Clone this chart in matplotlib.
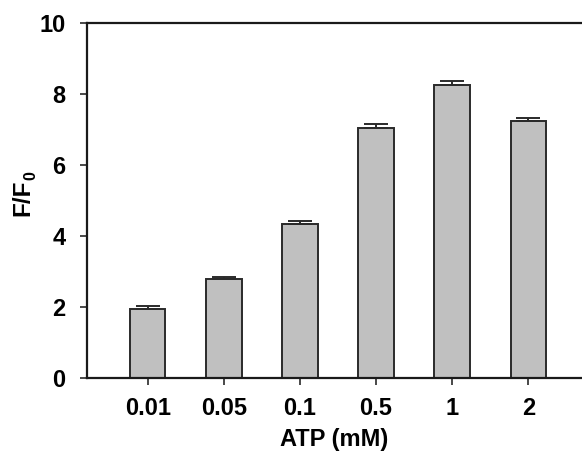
import matplotlib
matplotlib.use("Agg")
import matplotlib.pyplot as plt
from matplotlib import font_manager as fm
import numpy as np

categories = ["0.01", "0.05", "0.1", "0.5", "1", "2"]
values = [1.94, 2.78, 4.34, 7.05, 8.25, 7.23]
errors = [0.07, 0.07, 0.08, 0.11, 0.13, 0.11]
yticks = [0, 2, 4, 6, 8, 10]

# locate regular-width Liberation Sans Bold
bold_path = None
for f in fm.fontManager.ttflist:
    if f.name == 'Liberation Sans' and f.weight in (700, 'bold') and f.style == 'normal' \
            and 'Narrow' not in f.fname:
        bold_path = f.fname
        break
if bold_path:
    prop = fm.FontProperties(fname=bold_path)
else:
    prop = fm.FontProperties(family='DejaVu Sans', weight='bold')

FS = 17
fig = plt.figure(figsize=(5.82, 4.62), dpi=100)
ax = fig.add_axes([86.5/582, 84.3/462, 1 - 86.5/582, 354.4/462])

x = np.arange(len(categories))
ax.bar(x, values, width=0.465, color='#C0C0C0', edgecolor='#2a2a2a', linewidth=1.4, zorder=2)
ax.errorbar(x, values, yerr=[np.zeros(len(errors)), errors], fmt='none',
            ecolor='#2a2a2a', elinewidth=1.4, capsize=8.5, capthick=1.4, zorder=3)

ax.set_xlim(-0.804, 5.706)
ax.set_ylim(0, 10)
ax.set_xticks(x)
ax.set_xticklabels(categories, fontproperties=prop, fontsize=FS)
ax.set_yticks(yticks)
ax.set_yticklabels([str(t) for t in yticks], fontproperties=prop, fontsize=FS)
ax.tick_params(axis='both', direction='out', length=5, width=1.2, color='#2a2a2a')
ax.tick_params(axis='x', pad=9)
ax.tick_params(axis='y', pad=10)

for s in ['left', 'top', 'bottom']:
    ax.spines[s].set_linewidth(1.6)
    ax.spines[s].set_color('#1a1a1a')
ax.spines['right'].set_visible(False)

ax.set_xlabel("ATP (mM)", fontproperties=prop, fontsize=FS, labelpad=6)

# y label with subscript, composed from two text pieces
fig.text(22.5/582, 1 - 197.5/462, "F/F", fontproperties=prop, fontsize=FS + 0.5,
         rotation=90, ha='center', va='center')
fig.text(31/582, 1 - 175.5/462, "0", fontproperties=prop, fontsize=FS * 0.68,
         rotation=90, ha='center', va='center')

fig.savefig("out.png", dpi=100)
